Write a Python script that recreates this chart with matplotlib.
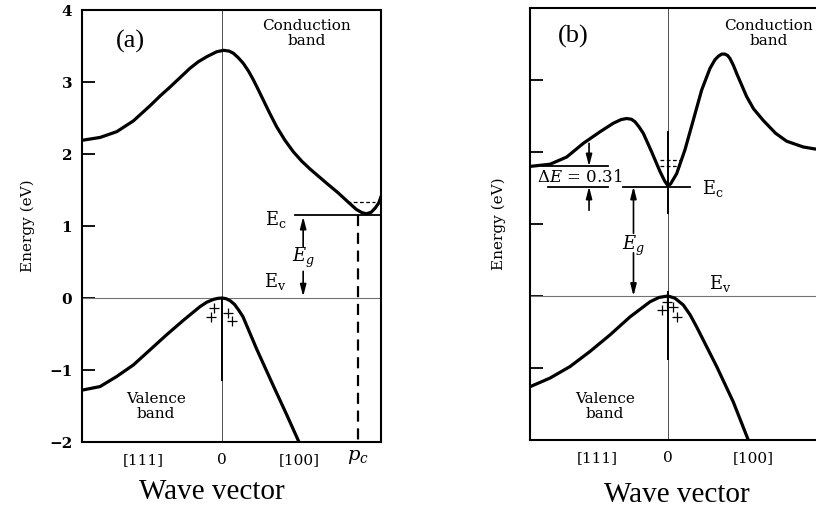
import matplotlib
matplotlib.use('Agg')
import matplotlib.pyplot as plt

plt.rcParams['font.family'] = 'DejaVu Serif'
plt.rcParams['mathtext.fontset'] = 'dejavuserif'

# panel (a): indirect gap, conduction minimum near p_c along [100]
cond_a_x = [-1.0, -0.871, -0.752, -0.633, -0.514, -0.44, -0.371, -0.3, -0.229, -0.17,
            -0.11, -0.038, 0.01, 0.05, 0.081, 0.115, 0.152, 0.19, 0.224, 0.26,
            0.295, 0.34, 0.39, 0.45, 0.51, 0.57, 0.63, 0.69, 0.75, 0.83,
            0.914, 0.96, 1.0, 1.033, 1.065, 1.095, 1.12, 1.136]
cond_a_y = [2.19, 2.23, 2.31, 2.46, 2.67, 2.81, 2.93, 3.06, 3.19, 3.28,
            3.35, 3.42, 3.44, 3.43, 3.40, 3.34, 3.26, 3.15, 3.03, 2.89,
            2.75, 2.57, 2.38, 2.19, 2.03, 1.90, 1.79, 1.69, 1.59, 1.46,
            1.31, 1.23, 1.185, 1.17, 1.19, 1.25, 1.32, 1.41]
val_a_x = [-1.0, -0.871, -0.752, -0.633, -0.514, -0.395, -0.276, -0.157, -0.11, -0.062,
           -0.03, 0.0, 0.03, 0.06, 0.09, 0.12, 0.15, 0.2, 0.248, 0.367,
           0.462, 0.55]
val_a_y = [-1.28, -1.23, -1.09, -0.93, -0.72, -0.51, -0.31, -0.12, -0.06, -0.02,
           -0.005, 0.0, -0.01, -0.04, -0.09, -0.17, -0.26, -0.49, -0.71, -1.22,
           -1.62, -2.0]
holes_a_x = [-0.057, -0.081, 0.045, 0.069]
holes_a_y = [-0.135, -0.27, -0.21, -0.32]

# panel (b): direct gap at k = 0
cond_b_x = [-1.0, -0.855, -0.734, -0.614, -0.493, -0.396, -0.34, -0.30, -0.265, -0.239,
            -0.21, -0.179, -0.118, -0.058, -0.025, 0.0, 0.02, 0.063, 0.123, 0.183,
            0.244, 0.304, 0.34, 0.365, 0.39, 0.413, 0.432, 0.449, 0.475, 0.498,
            0.57, 0.62, 0.69, 0.78, 0.86, 0.98, 1.072, 1.17]
cond_b_y = [1.80, 1.83, 1.93, 2.12, 2.28, 2.40, 2.45, 2.465, 2.455, 2.42,
            2.35, 2.26, 2.00, 1.73, 1.60, 1.53, 1.56, 1.70, 2.03, 2.44,
            2.86, 3.16, 3.28, 3.33, 3.36, 3.36, 3.34, 3.30, 3.20, 3.09,
            2.77, 2.60, 2.44, 2.26, 2.15, 2.07, 2.04, 2.03]
val_b_x = [-1.0, -0.855, -0.71, -0.565, -0.42, -0.275, -0.13, -0.065, 0.0,
           0.05, 0.111, 0.16, 0.208, 0.353, 0.473, 0.582]
val_b_y = [-1.26, -1.14, -0.98, -0.77, -0.54, -0.29, -0.08, -0.02, 0.0,
           -0.03, -0.125, -0.26, -0.43, -0.98, -1.47, -2.0]
holes_b_x = [-0.01, -0.046, 0.038, 0.063]
holes_b_y = [-0.08, -0.20, -0.15, -0.29]

ec_a = 1.15
ec_b = 1.52
p_c = 0.974
delta_e_levels = [1.80, 1.52]

y_ticks = [-2, -1, 0, 1, 2, 3, 4]
y_tick_labels = ['\u22122', '\u22121', '0', '1', '2', '3', '4']
k_labels = ['[111]', '0', '[100]']
k_pos_a = [-0.56, 0.0, 0.55]
k_pos_b = [-0.51, 0.0, 0.616]

fig = plt.figure(figsize=(8.16, 5.08), dpi=100)
ax_a = fig.add_axes([82 / 816, 66 / 508, 299 / 816, 432 / 508])
ax_b = fig.add_axes([530 / 816, 68 / 508, 299 / 816, 432 / 508])

arrow = dict(arrowstyle='-|>,head_length=0.7,head_width=0.18', color='black', lw=1.2,
             shrinkA=0, shrinkB=0)


def setup(ax, xmax, k_pos, show_labels):
    ax.set_xlim(-1, xmax)
    ax.set_ylim(-2, 4)
    for s in ax.spines.values():
        s.set_linewidth(1.5)
    ax.set_yticks(y_ticks)
    if show_labels:
        ax.set_yticklabels(y_tick_labels, fontweight='bold', fontsize=11)
    else:
        ax.set_yticklabels([])
    ax.tick_params(axis='y', direction='in', length=9, width=1.3, pad=7)
    ax.set_xticks(k_pos)
    ax.set_xticklabels(k_labels, fontsize=11)
    ax.tick_params(axis='x', length=0, pad=8)
    ax.axhline(0, color='0.45', lw=0.8)
    ax.axvline(0, color='0.3', lw=0.7)
    ax.set_ylabel('Energy (eV)', fontsize=11, labelpad=10)


# ---- panel (a)
ax = ax_a
setup(ax, 1.136, k_pos_a, True)
ax.plot(cond_a_x, cond_a_y, color='black', lw=2.3, solid_capstyle='round', solid_joinstyle='round')
ax.plot(val_a_x, val_a_y, color='black', lw=2.3, solid_capstyle='round', solid_joinstyle='round')
ax.plot(holes_a_x, holes_a_y, '+', color='black', ms=7, mew=0.9)
ax.plot([0, 0], [0, -1.14], color='black', lw=1.4)
ax.plot([0.52, 1.136], [ec_a, ec_a], color='black', lw=1.3)
ax.plot([0.89, 1.09], [1.34, 1.34], color='black', lw=0.9, ls=(0, (3, 2)))
ax.plot([p_c, p_c], [ec_a, -2], color='black', lw=1.6, ls=(0, (5, 3)))
ax.annotate('', xy=(0.58, ec_a - 0.02), xytext=(0.58, 0.71), arrowprops=arrow)
ax.annotate('', xy=(0.58, 0.02), xytext=(0.58, 0.37), arrowprops=arrow)
ax.text(0.58, 0.55, r'$E_g$', fontsize=13, ha='center', va='center')
ax.text(0.46, 1.09, r'E$_\mathrm{c}$', fontsize=13, ha='right', va='center')
ax.text(0.46, 0.23, r'E$_\mathrm{v}$', fontsize=13, ha='right', va='center')
ax.text(-0.657, 3.56, '(a)', family='Liberation Serif', fontsize=19, ha='center', va='center')
ax.text(0.607, 3.67, 'Conduction\nband', fontsize=11, ha='center', va='center', linespacing=1.1)
ax.text(-0.471, -1.51, 'Valence\nband', fontsize=11, ha='center', va='center', linespacing=1.1)
ax.text(p_c, -2.08, r'$p_c$', fontsize=14, ha='center', va='top')
ax.text(0.434, -0.116, 'Wave vector', family='Liberation Serif', fontsize=21,
        ha='center', va='center', transform=ax.transAxes)

# ---- panel (b)
ax = ax_b
setup(ax, 1.167, k_pos_b, False)
ax.plot(cond_b_x, cond_b_y, color='black', lw=2.3, solid_capstyle='round', solid_joinstyle='round')
ax.plot(val_b_x, val_b_y, color='black', lw=2.3, solid_capstyle='round', solid_joinstyle='round')
ax.plot(holes_b_x, holes_b_y, '+', color='black', ms=7, mew=0.9)
ax.plot([0, 0], [2.28, 1.15], color='black', lw=1.4)
ax.plot([0, 0], [0.05, -0.87], color='black', lw=1.4)
ax.plot([-0.324, 0.16], [ec_b, ec_b], color='black', lw=1.3)
ax.plot([-0.058, 0.087], [1.89, 1.89], color='black', lw=0.9, ls=(0, (3, 2)))
ax.plot([-0.058, 0.087], [1.80, 1.80], color='black', lw=0.9, ls=(0, (3, 2)))
ax.plot([-0.915, -0.433], [delta_e_levels[0], delta_e_levels[0]], color='black', lw=1.3)
ax.plot([-0.87, -0.433], [delta_e_levels[1], delta_e_levels[1]], color='black', lw=1.3)
ax.annotate('', xy=(-0.572, delta_e_levels[0]), xytext=(-0.572, 2.12), arrowprops=arrow)
ax.annotate('', xy=(-0.572, delta_e_levels[1]), xytext=(-0.572, 1.19), arrowprops=arrow)
ax.text(-0.64, 1.64, r'$\Delta E$ = 0.31', fontsize=12, ha='center', va='center')
ax.annotate('', xy=(-0.25, ec_b), xytext=(-0.25, 0.87), arrowprops=arrow)
ax.annotate('', xy=(-0.25, 0.0), xytext=(-0.25, 0.6), arrowprops=arrow)
ax.text(-0.25, 0.70, r'$E_g$', fontsize=13, ha='center', va='center')
ax.text(0.25, 1.49, r'E$_\mathrm{c}$', fontsize=13, ha='left', va='center')
ax.text(0.30, 0.18, r'E$_\mathrm{v}$', fontsize=13, ha='left', va='center')
ax.text(-0.686, 3.60, '(b)', family='Liberation Serif', fontsize=19, ha='center', va='center')
ax.text(0.727, 3.65, 'Conduction\nband', fontsize=11, ha='center', va='center', linespacing=1.1)
ax.text(-0.457, -1.54, 'Valence\nband', fontsize=11, ha='center', va='center', linespacing=1.1)
ax.text(0.49, -0.127, 'Wave vector', family='Liberation Serif', fontsize=21,
        ha='center', va='center', transform=ax.transAxes)

fig.savefig('out.png', dpi=100)
